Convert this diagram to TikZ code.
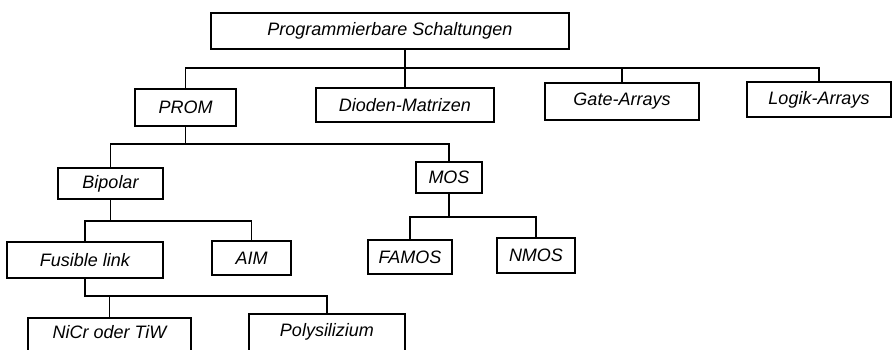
\documentclass[tikz,border=0pt]{standalone}
\usepackage{fontspec}
\setmainfont{Liberation Sans}
\tikzset{
  kasten/.style = {draw, line width=1.5pt, inner sep=0pt,
                   font=\fontsize{13.5}{16}\selectfont\itshape},
  linie/.style  = {line width=1.2pt}
}

\begin{document}
\begin{tikzpicture}[x=0.75pt,y=-0.75pt]
	\useasboundingbox (0,0) rectangle (894,350);
	\clip (0,0) rectangle (894,350);

	% Ebene 1
	\node[kasten, minimum width=268pt, minimum height=27pt] (prog) at (390,31) {Programmierbare Schaltungen};

	% Ebene 2
	\node[kasten, minimum width=76pt, minimum height=28pt]  (prom)   at (185.5,107.5) {PROM};
	\node[kasten, minimum width=134pt, minimum height=26pt] (dioden) at (405,105)     {Dioden-Matrizen};
	\node[kasten, minimum width=115pt, minimum height=28pt] (gate)   at (622,101.5)   {Gate-Arrays};
	\node[kasten, minimum width=108pt, minimum height=26pt] (logik)  at (819,99.5)    {Logik-Arrays};

	% Ebene 3
	\node[kasten, minimum width=79pt, minimum height=23pt] (bipolar) at (110.5,183.5) {Bipolar};
	\node[kasten, minimum width=50pt, minimum height=23pt] (mos)     at (449,177.5)   {MOS};

	% Ebene 4
	\node[kasten, minimum width=117pt, minimum height=27pt] (fusible) at (85,260)    {Fusible link};
	\node[kasten, minimum width=59pt, minimum height=26pt]  (aim)     at (251.5,258) {AIM};
	\node[kasten, minimum width=63pt, minimum height=26pt]  (famos)   at (410,257)   {FAMOS};
	\node[kasten, minimum width=59pt, minimum height=26pt]  (nmos)    at (536,255.5) {NMOS};

	% Ebene 5 (unten abgeschnitten)
	\node[kasten, minimum width=122pt, minimum height=32pt, text depth=10pt] (nicr) at (109.5,339) {NiCr oder TiW};
	\node[kasten, minimum width=117pt, minimum height=34pt, text depth=10pt] (poly) at (327,337)   {Polysilizium};

	% Sammelschienen
	\coordinate (busA) at (0,68);
	\coordinate (busB) at (0,144);
	\coordinate (busC) at (0,221);
	\coordinate (busD) at (0,296);
	\coordinate (busE) at (0,217);

	% Verbindungen
	\draw[linie] (prom.north) |- (busA -| logik.north) -- (logik.north);
	\draw[linie] (prog.south -| dioden.north) -- (dioden.north);
	\draw[linie] (gate.north) -- (gate.north |- busA);

	\draw[linie] (prom.south) |- (busB -| bipolar.north) -- (bipolar.north);
	\draw[linie] (prom.south |- busB) -| (mos.north);

	\draw[linie] (bipolar.south) |- (busC -| fusible.north) -- (fusible.north);
	\draw[linie] (bipolar.south |- busC) -| (aim.north);

	\draw[linie] (mos.south) |- (busE -| famos.north) -- (famos.north);
	\draw[linie] (mos.south |- busE) -| (nmos.north);

	\draw[linie] (fusible.south) |- (busD -| nicr.north) -- (nicr.north);
	\draw[linie] (fusible.south |- busD) -| (poly.north);

\end{tikzpicture}
\end{document}
